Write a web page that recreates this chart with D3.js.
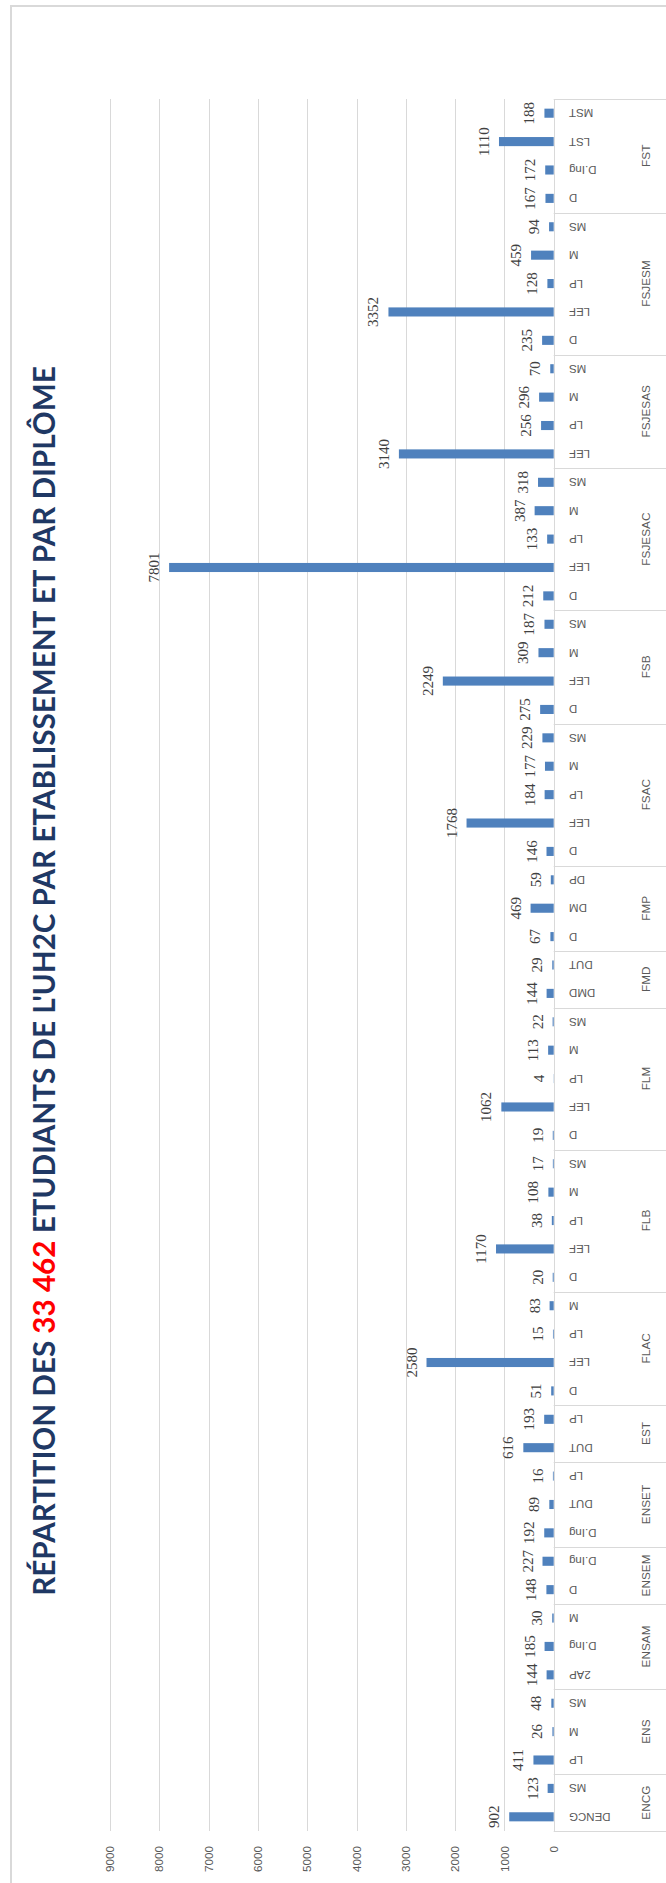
<!DOCTYPE html>
<html><head><meta charset="utf-8">
<script src="https://cdn.jsdelivr.net/npm/d3@7"></script>
<style>body{margin:0;background:#fff}svg{display:block}</style>
</head><body><svg id="c" width="666" height="1883"></svg>
<script>
const groups = ["ENCG","ENS","ENSAM","ENSEM","ENSET","EST","FLAC","FLB","FLM","FMD","FMP","FSAC","FSB","FSJESAC","FSJESAS","FSJESM","FST"];
const diplomas = [
  ["DENCG","MS"],
  ["LP","M","MS"],
  ["2AP","D.Ing","M"],
  ["D","D.Ing"],
  ["D.Ing","DUT","LP"],
  ["DUT","LP"],
  ["D","LEF","LP","M"],
  ["D","LEF","LP","M","MS"],
  ["D","LEF","LP","M","MS"],
  ["DMD","DUT"],
  ["D","DM","DP"],
  ["D","LEF","LP","M","MS"],
  ["D","LEF","M","MS"],
  ["D","LEF","LP","M","MS"],
  ["LEF","LP","M","MS"],
  ["D","LEF","LP","M","MS"],
  ["D","D.Ing","LST","MST"]
];
const counts = [
  [902,123],
  [411,26,48],
  [144,185,30],
  [148,227],
  [192,89,16],
  [616,193],
  [51,2580,15,83],
  [20,1170,38,108,17],
  [19,1062,4,113,22],
  [144,29],
  [67,469,59],
  [146,1768,184,177,229],
  [275,2249,309,187],
  [212,7801,133,387,318],
  [3140,256,296,70],
  [235,3352,128,459,94],
  [167,172,1110,188]
];
const valueTicks = [0,1000,2000,3000,4000,5000,6000,7000,8000,9000];
const titleBefore = "RÉPARTITION DES ";
const titleTotal = "33 462";
const titleAfter = " ETUDIANTS DE L'UH2C PAR ETABLISSEMENT ET PAR DIPLÔME";

const items = [];
groups.forEach((g, gi) => {
  diplomas[gi].forEach((d, di) => {
    items.push({id: g + "|" + d, group: g, gi: gi, label: d, value: counts[gi][di]});
  });
});

const svg = d3.select("#c");
const plotTop = 99, plotBottom = 1831;
const x = d3.scaleLinear().domain([0, 9000]).range([553.7, 110]);
const y = d3.scaleBand().domain(items.map(d => d.id)).range([plotBottom, plotTop])
  .paddingInner(0.68).paddingOuter(0.34);
const step = y.step();
const cy = id => y(id) + y.bandwidth() / 2;

// card border
svg.append("rect").attr("x", 11).attr("y", 6).attr("width", 700).attr("height", 1900)
  .attr("fill", "#fff").attr("stroke", "#d9d9d9").attr("stroke-width", 2);

// gridlines
svg.append("g").selectAll("line").data(valueTicks).join("line")
  .attr("x1", d => Math.round(x(d)) + 0.5).attr("x2", d => Math.round(x(d)) + 0.5)
  .attr("y1", plotTop).attr("y2", plotBottom)
  .attr("stroke", "#d9d9d9").attr("stroke-width", 1);

// tick labels
svg.append("g").selectAll("text").data(valueTicks).join("text")
  .attr("transform", d => `translate(${x(d)},1846) rotate(-90)`)
  .attr("text-anchor", "end").attr("dy", "0.35em")
  .attr("font-family", "Liberation Sans, Arial, sans-serif").attr("font-size", 11.7)
  .attr("fill", "#595959").text(d => d);

// bars
svg.append("g").selectAll("rect").data(items).join("rect")
  .attr("x", d => x(d.value)).attr("width", d => x(0) - x(d.value))
  .attr("y", d => y(d.id)).attr("height", y.bandwidth())
  .attr("fill", "#4f81bd");

// value labels
svg.append("g").selectAll("text").data(items).join("text")
  .attr("transform", d => `translate(${x(d.value) - 10},${cy(d.id)}) rotate(-90)`)
  .attr("text-anchor", "middle")
  .attr("font-family", "Liberation Serif, Times New Roman, serif").attr("font-size", 15)
  .attr("fill", "#404040").text(d => d.value);

// category axis: group boundaries
const bounds = [];
groups.forEach((g, gi) => {
  const its = items.filter(d => d.gi === gi);
  const bottom = cy(its[0].id) + step / 2;
  const top = cy(its[its.length - 1].id) - step / 2;
  bounds.push({g: g, top: top, bottom: bottom, mid: (top + bottom) / 2});
});
const lineYs = [plotBottom].concat(bounds.map(b => b.top));
svg.append("g").selectAll("line").data(lineYs).join("line")
  .attr("x1", x(0)).attr("x2", 666)
  .attr("y1", d => Math.round(d) + 0.5).attr("y2", d => Math.round(d) + 0.5)
  .attr("stroke", "#d9d9d9").attr("stroke-width", 1);
// axis line
svg.append("line").attr("x1", Math.round(x(0)) + 0.5).attr("x2", Math.round(x(0)) + 0.5)
  .attr("y1", plotTop).attr("y2", plotBottom)
  .attr("stroke", "#d9d9d9").attr("stroke-width", 1);

// diploma labels (upside down)
svg.append("g").selectAll("text").data(items).join("text")
  .attr("transform", d => `translate(569,${cy(d.id)}) rotate(180)`)
  .attr("text-anchor", "end").attr("dy", "0.35em")
  .attr("font-family", "Liberation Sans, Arial, sans-serif").attr("font-size", 11.5)
  .attr("fill", "#595959").text(d => d.label);

// group labels
svg.append("g").selectAll("text").data(bounds).join("text")
  .attr("transform", d => `translate(645.7,${d.mid}) rotate(-90)`)
  .attr("text-anchor", "middle").attr("dy", "0.35em")
  .attr("font-family", "Liberation Sans, Arial, sans-serif").attr("font-size", 11.8)
  .attr("fill", "#595959").text(d => d.g);

// title
const title = svg.append("text")
  .attr("transform", "translate(55,981) rotate(-90)")
  .attr("text-anchor", "middle")
  .attr("font-family", "Lato, Liberation Sans, sans-serif").attr("font-weight", "bold")
  .attr("font-size", 26).attr("fill", "#1f3864");
title.append("tspan").text(titleBefore);
title.append("tspan").attr("fill", "#ff0000").text(titleTotal);
title.append("tspan").text(titleAfter);
const len = title.node().getComputedTextLength();
title.attr("font-size", 26 * 1230 / len);
</script></body></html>
